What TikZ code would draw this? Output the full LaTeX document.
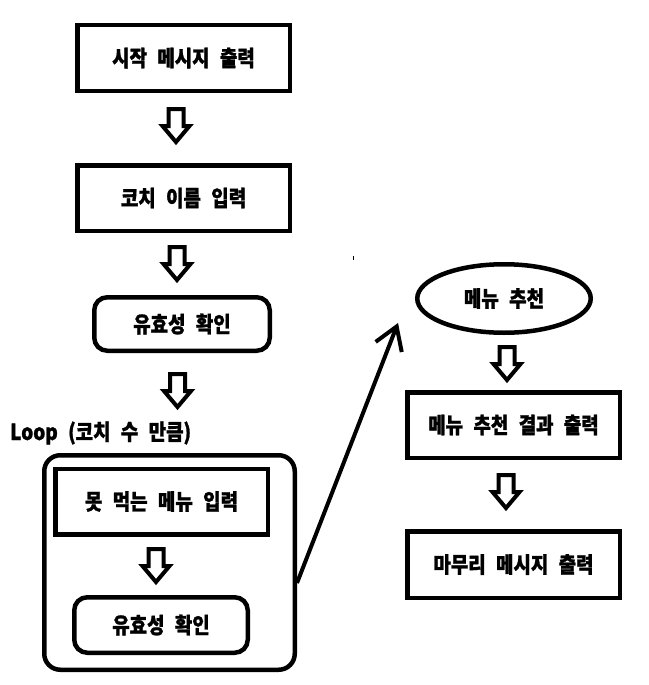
\documentclass[tikz,border=0pt]{standalone}
\usepackage{fontspec}
\setmainfont{Noto Sans CJK KR}[FakeStretch=0.86, WordSpace=2.4, BoldFeatures={FakeBold=1.2}]
\usetikzlibrary{shapes.geometric,arrows.meta,calc}
\begin{document}
\begin{tikzpicture}[x=1pt,y=-1pt,
  every node/.style={font=\fontsize{22}{25}\selectfont\bfseries, inner sep=0pt},
  box/.style={draw, line width=4.5pt, minimum width=212.5pt, minimum height=65.5pt},
  rbox/.style={draw, line width=4.5pt, rounded corners=13pt},
  oval/.style={draw, ellipse, line width=4.5pt, minimum width=173.5pt, minimum height=68.5pt},
  blockarrow/.pic={\draw[line width=4pt, line join=miter]
      (-7.5,2) -- (7.5,2) -- (7.5,19) -- (13.5,19) -- (0,35) -- (-13.5,19) -- (-7.5,19) -- cycle;}
]
\fill[white] (0,0) rectangle (648,685);
\useasboundingbox (0,0) rectangle (648,685);

% left column
\node[box] (start) at (183.5,58) {시작 메시지 출력};
\node[box] (coach) at (183.5,198) {코치 이름 입력};
\node[rbox, minimum width=175.5pt, minimum height=53.5pt] (check1) at (182,324) {유효성 확인};

\node[anchor=west] (looplbl) at (10,433) {Loop (코치 수 만큼)};
\node[rbox, rounded corners=16pt, minimum width=250.5pt, minimum height=214.5pt] (loop) at (169.5,562.5) {};
\node[box] (ban) at (161.5,501.5) {못 먹는 메뉴 입력};
\node[rbox, minimum width=173.5pt, minimum height=55.5pt] (check2) at (161,625) {유효성 확인};

% right column
\node[oval] (rec) at (504,298.5) {메뉴 추천};
\node[box] (result) at (513.5,425) {메뉴 추천 결과 출력};
\node[box, minimum height=66.5pt] (finish) at (513.5,564.5) {마무리 메시지 출력};

% hollow block arrows between steps
\pic at (176,107) {blockarrow};
\pic at (177,245) {blockarrow};
\pic at (177.5,372) {blockarrow};
\pic at (156,547) {blockarrow};
\pic at (507,345) {blockarrow};
\pic at (506,473) {blockarrow};

% loop exit towards the recommendation step
\coordinate (tip) at (398,323);
\draw[line width=4pt, -{Straight Barb[length=22pt,width=28pt,line width=4pt]}]
  ($(loop.east)+(0,20.5)$) -- (tip);

% small stray tick
\draw[line width=1pt] (353,256) -- (353,260);
\end{tikzpicture}
\end{document}
